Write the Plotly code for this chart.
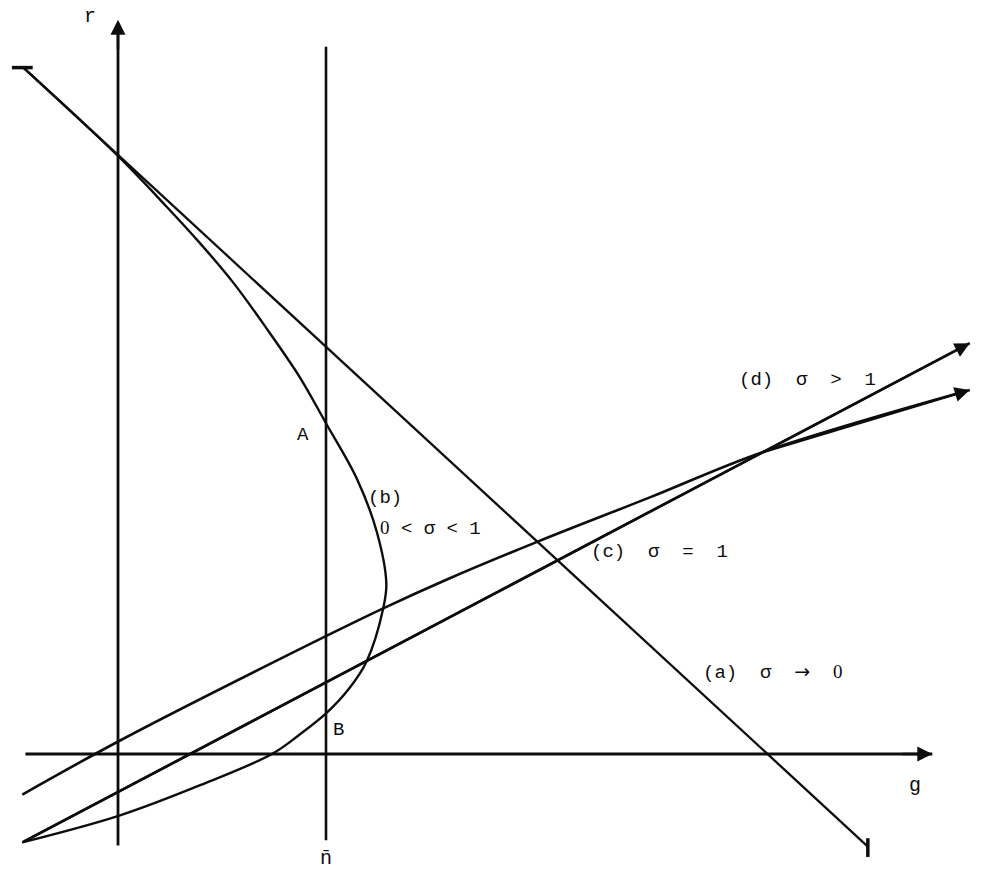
import plotly.graph_objects as go

# r-g phase diagram; units chosen so that n-bar sits at g = 2
n_bar = 2.0

# axes extents
g_axis_g = [-0.89, 7.83]
r_axis_r = [-0.88, 7.06]
n_line_r = [-0.83, 6.80]

# (a) sigma -> 0 : straight line
line_a_g = [-0.91, 7.21]
line_a_r = [6.60, -0.89]

# (b) 0 < sigma < 1 : backward-bending curve
curve_b_g = [-0.91, -0.01, 0.47, 0.79, 1.11, 1.43, 1.75, 2.00, 2.30, 2.49, 2.58,
             2.55, 2.39, 2.23, 2.00, 1.75, 1.48, 0.79, 0.02, -0.92]
curve_b_r = [6.60, 5.76, 5.26, 4.91, 4.53, 4.09, 3.62, 3.18, 2.64, 2.13, 1.64,
             1.40, 0.89, 0.64, 0.39, 0.19, 0.00, -0.30, -0.59, -0.85]

# (c) sigma = 1 : straight line
line_c_g = [-0.92, 8.19]
line_c_r = [-0.85, 3.95]

# (d) sigma > 1 : concave curve
curve_d_g = [-0.92, 0.02, 1.53, 2.55, 3.19, 4.03, 5.12, 6.19, 8.19]
curve_d_r = [-0.39, 0.13, 0.90, 1.40, 1.69, 2.04, 2.47, 2.90, 3.50]

# small end caps on line (a)
cap_top_g = [-1.02, -0.82]
cap_top_r = [6.60, 6.60]
cap_bot_g = [7.21, 7.21]
cap_bot_r = [-0.81, -0.99]

INK = "#0d0d0d"
FONT = "Liberation Mono, Courier New, monospace"

fig = go.Figure()


def add_line(g, r, width=2.5, shape="linear"):
    fig.add_trace(go.Scatter(
        x=g, y=r, mode="lines",
        line={"color": INK, "width": width, "shape": shape, "smoothing": 1.0},
        hoverinfo="skip", showlegend=False,
    ))


add_line([0, 0], [r_axis_r[0], r_axis_r[1] - 0.05], width=2.8)
add_line(g_axis_g, [0, 0], width=3.0)
add_line([n_bar, n_bar], n_line_r, width=2.6)
add_line(line_a_g, line_a_r, width=2.3)
add_line(curve_b_g, curve_b_r, width=2.4, shape="spline")
add_line(line_c_g, line_c_r, width=2.6)
add_line(curve_d_g, curve_d_r, width=2.6, shape="spline")
add_line(cap_top_g, cap_top_r, width=3.5)
add_line(cap_bot_g, cap_bot_r, width=3.5)

arrows = [
    (g_axis_g[1], 0, g_axis_g[1] - 0.3, 0),
    (0, r_axis_r[1], 0, r_axis_r[1] - 0.3),
    (line_c_g[1], line_c_r[1], line_c_g[0], line_c_r[0]),
    (curve_d_g[-1], curve_d_r[-1], curve_d_g[-2], curve_d_r[-2]),
]
annotations = []
for x, y, ax, ay in arrows:
    annotations.append({
        "x": x, "y": y, "ax": ax, "ay": ay,
        "xref": "x", "yref": "y", "axref": "x", "ayref": "y",
        "showarrow": True, "arrowhead": 2, "arrowsize": 1.2,
        "arrowwidth": 2.5, "arrowcolor": INK, "text": "",
    })

# plain (unslashed) zero and a full-size arrow, as on the typewritten original
zero = '<span style="font-family:Liberation Serif">0</span>'
arrow_glyph = '<span style="font-family:DejaVu Sans">\u2192</span>'
labels = [
    ("r", -0.27, 7.09, "center", 20),
    ("g", 7.66, -0.30, "center", 20),
    ("n\u0304", n_bar, -1.00, "center", 20),
    ("A", 1.78, 3.07, "center", 19),
    ("B", 2.12, 0.23, "center", 19),
    ("(b)", 2.38, 2.46, "left", 19),
    (zero + " < \u03c3 < 1", 2.50, 2.17, "left", 19),
    ("(c)  \u03c3  =  1", 4.53, 1.94, "left", 19),
    ("(d)  \u03c3  >  1", 5.95, 3.60, "left", 19),
    ("(a)  \u03c3  " + arrow_glyph + "  " + zero, 5.61, 0.79, "left", 19),
]
for text, x, y, anchor, size in labels:
    annotations.append({
        "x": x, "y": y, "xref": "x", "yref": "y", "text": text,
        "showarrow": False, "xanchor": anchor, "yanchor": "middle",
        "font": {"family": FONT, "size": size, "color": INK},
    })

fig.update_layout(
    width=985, height=869,
    margin={"l": 0, "r": 0, "t": 0, "b": 0},
    paper_bgcolor="white", plot_bgcolor="white",
    xaxis={"range": [-1.1346, 8.3365], "visible": False, "fixedrange": True},
    yaxis={"range": [-1.1058, 7.25], "visible": False, "fixedrange": True},
    annotations=annotations,
    showlegend=False,
)

fig.write_html("out.html", config={"displayModeBar": False},
               post_script="document.body.style.margin='0';")
